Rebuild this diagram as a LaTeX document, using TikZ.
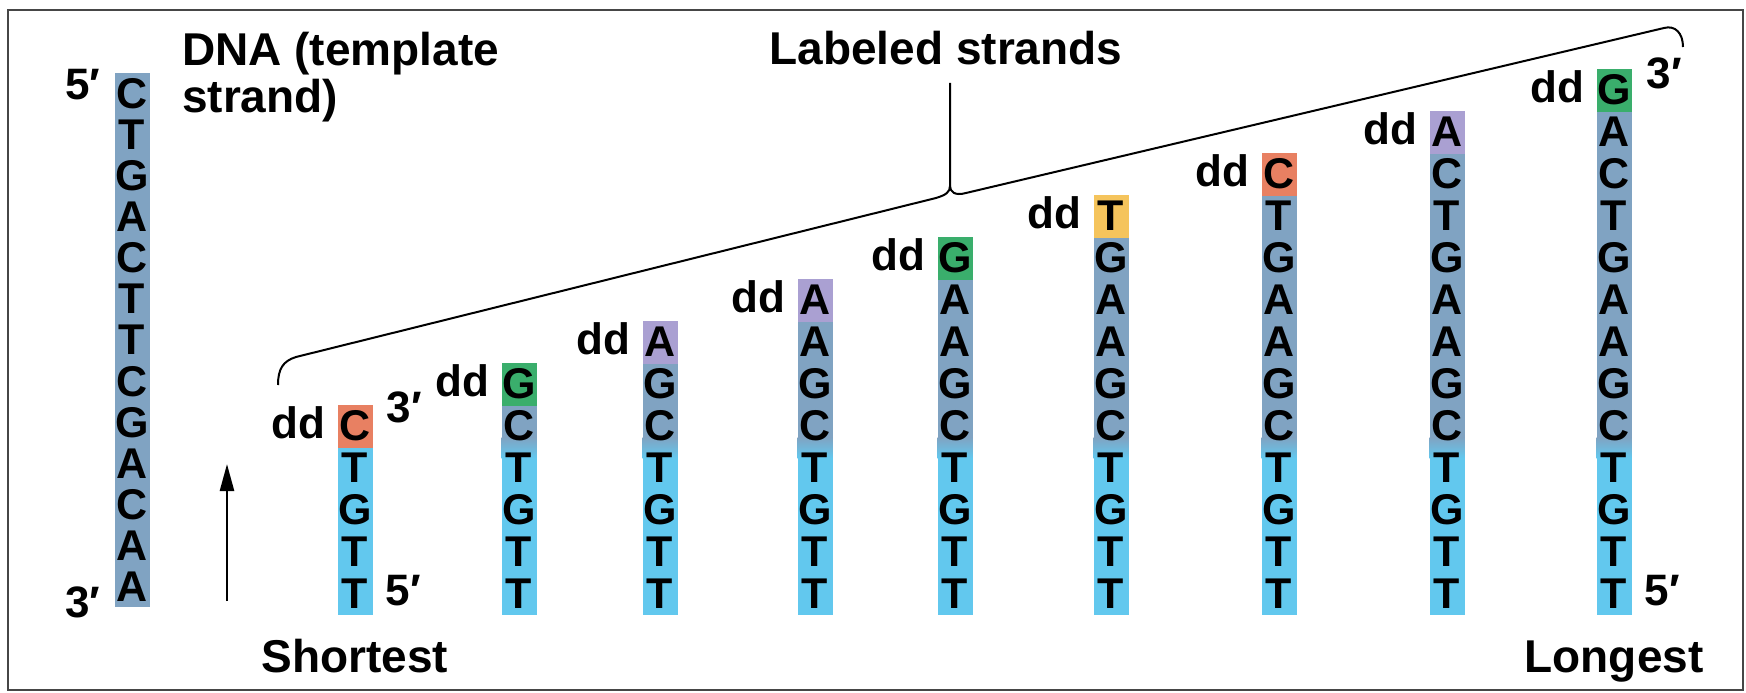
\documentclass[tikz,border=0pt]{standalone}
\usepackage{fontspec}
\setmainfont{Liberation Sans}
\usetikzlibrary{arrows.meta}
\definecolor{bodyc}{RGB}{128,163,194}
\definecolor{primc}{RGB}{98,200,238}
\definecolor{cC}{RGB}{232,128,98}
\definecolor{cG}{RGB}{58,174,108}
\definecolor{cA}{RGB}{170,160,210}
\definecolor{cT}{RGB}{245,196,92}
\definecolor{framec}{RGB}{70,70,70}
\newcommand\drawstrand[5]{%
  \pgfmathsetmacro\stop{615-42*#3}%
  \fill[primc] (#2-17.5,447) rectangle (#2+17.5,615);
  \ifnum#3>5\relax
    \fill[bodyc] (#2-17.5,\stop+42) rectangle (#2+17.5,438);
    \shade[top color=bodyc, bottom color=primc] (#2-17.5,437.5) rectangle (#2+17.5,458);
  \fi
  \fill[#5] (#2-17.5,\stop) rectangle (#2+17.5,\stop+42.5);
  \foreach \L [count=\i from 0] in {#4} {%
    \node[base, anchor=north] (#1-\i) at (#2, {\stop+42*\i}) {\L};
  }%
}
\begin{document}
\begin{tikzpicture}[x=1pt,y=-1pt,
  base/.style={minimum width=35pt, minimum height=42pt, inner sep=0pt, outer sep=0pt,
    font=\fontsize{43}{46}\selectfont\bfseries},
  tbase/.style={base, minimum height=41.1pt, anchor=north},
  lbl/.style={inner sep=0pt, font=\fontsize{46}{50}\selectfont\bfseries},
  dd/.style={inner sep=0pt, font=\fontsize{44}{48}\selectfont\bfseries},
  conn/.style={line width=2pt, black}]
\useasboundingbox (0,0) rectangle (1746,693);
\fill[white] (0,0) rectangle (1746,693);
\draw[line width=2pt, framec] (8,10) rectangle (1743,690);

% template strand
\fill[bodyc] (114.5,73) rectangle (149.5,607);
\foreach \L [count=\i from 0] in {C,T,G,A,C,T,T,C,G,A,C,A,A} {
  \node[tbase] (t-\i) at (132, {73+41.1*\i}) {\L};
}
\node[dd, anchor=base east] (t5) at ([xshift=-14pt, yshift=9pt]t-0.base west) {5′};
\node[dd, anchor=base east] (t3) at ([xshift=-14pt, yshift=-16pt]t-12.base west) {3′};
\node[lbl, anchor=base west] (dna1) at (182,66) {DNA (template};
\node[lbl, anchor=base west] (dna2) at (182,112) {strand)};

% arrow
\coordinate (a0) at (227,601);
\coordinate (a1) at (227,464);
\draw[line width=2.5pt, -{Triangle[length=27pt,width=14pt]}] (a0) -- (a1);

% labeled strands
\drawstrand{s1}{355}{5}{C,T,G,T,T}{cC}
\drawstrand{s2}{519}{6}{G,C,T,G,T,T}{cG}
\drawstrand{s3}{660}{7}{A,G,C,T,G,T,T}{cA}
\drawstrand{s4}{815}{8}{A,A,G,C,T,G,T,T}{cA}
\drawstrand{s5}{955}{9}{G,A,A,G,C,T,G,T,T}{cG}
\drawstrand{s6}{1111}{10}{T,G,A,A,G,C,T,G,T,T}{cT}
\drawstrand{s7}{1279}{11}{C,T,G,A,A,G,C,T,G,T,T}{cC}
\drawstrand{s8}{1447}{12}{A,C,T,G,A,A,G,C,T,G,T,T}{cA}
\drawstrand{s9}{1614}{13}{G,A,C,T,G,A,A,G,C,T,G,T,T}{cG}

\foreach \k in {1,...,9} {
  \node[dd, anchor=base east] (dd\k) at ([xshift=-12pt, yshift=2pt]s\k-0.base west) {dd};
}
\node[dd, anchor=base west] (s1t3) at ([xshift=14pt, yshift=18pt]s1-0.base east) {3′};
\node[dd, anchor=base west] (s1t5) at ([xshift=13pt, yshift=3pt]s1-4.base east) {5′};
\node[dd, anchor=base west] (s9t3) at ([xshift=15pt, yshift=16pt]s9-0.base east) {3′};
\node[dd, anchor=base west] (s9t5) at ([xshift=13pt, yshift=3pt]s9-12.base east) {5′};

\node[lbl, anchor=base] (short) at (355,672) {Shortest};
\node[lbl, anchor=base] (long) at (1614,672) {Longest};
\node[lbl, anchor=base] (labs) at (946,65) {Labeled strands};

% brace
\coordinate (bl) at (278,385);
\coordinate (tip) at (950,83);
\coordinate (cusp) at (950,186);
\coordinate (br) at (1683,47);
\draw[conn] (bl) .. controls (278,369) and (283,361) .. (296,357) -- (936,198)
  .. controls (946,195) and (950,192) .. (cusp) -- (tip);
\draw[conn] (cusp) .. controls (950,192) and (955,196) .. (966,193) -- (1664,28)
  .. controls (1675,25) and (1683,33) .. (br);
\end{tikzpicture}
\end{document}
